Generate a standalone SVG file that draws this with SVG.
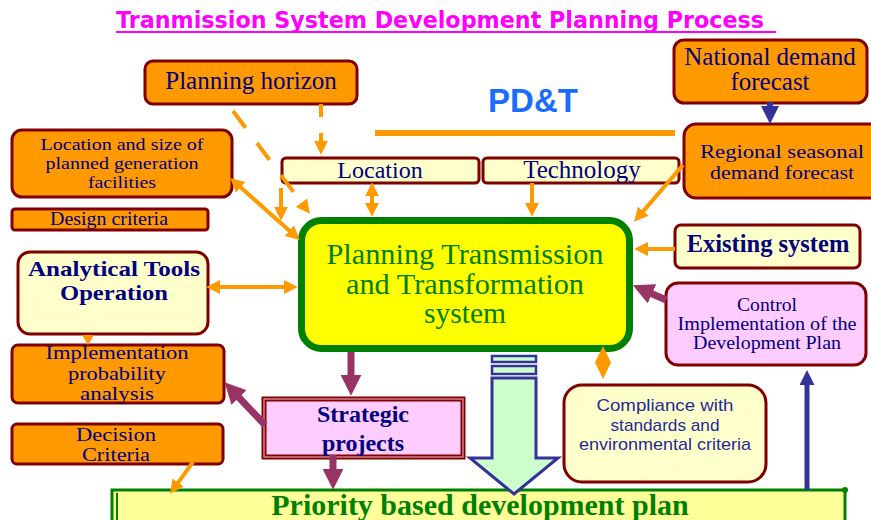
<svg xmlns="http://www.w3.org/2000/svg" width="871" height="520" viewBox="0 0 871 520">
  <style>
    .orange { fill: #FF9900; stroke: #800000; stroke-width: 3; }
    .cream { fill: #FFFFCC; stroke: #800000; stroke-width: 3; }
    .pink { fill: #FFCCFF; stroke: #800000; stroke-width: 3; }
    .serif { font-family: "Liberation Serif", "Times New Roman", serif; fill: #000080; text-anchor: middle; }
    .bold { font-weight: bold; }
    .sans { font-family: "Liberation Sans", Arial, sans-serif; text-anchor: middle; }
    .green { fill: #008000; }
    .oline { fill: none; stroke: #FF9900; stroke-width: 4; }
    .pline { fill: none; stroke: #993366; stroke-width: 7; }
    .nline { fill: none; stroke: #333399; }
  </style>
  <defs>
    <marker id="oa" viewBox="0 0 10 10" refX="3" refY="5" markerWidth="3.5" markerHeight="3.5" orient="auto-start-reverse" markerUnits="strokeWidth">
      <path d="M0,0 L10,5 L0,10 Z" fill="#FF9900"/>
    </marker>
    <marker id="pa" viewBox="0 0 10 10" refX="3" refY="5" markerWidth="3" markerHeight="3" orient="auto" markerUnits="strokeWidth">
      <path d="M0,0 L10,5 L0,10 Z" fill="#993366"/>
    </marker>
    <marker id="na" viewBox="0 0 10 10" refX="3" refY="5" markerWidth="3" markerHeight="3" orient="auto" markerUnits="strokeWidth">
      <path d="M0,0 L10,5 L0,10 Z" fill="#333399"/>
    </marker>
  </defs>

  <rect width="871" height="520" fill="#FFFFFF"/>

  <!-- title -->
  <g id="title">
    <text x="116" y="28" font-family="DejaVu Sans, Verdana, sans-serif" font-weight="bold" font-size="23" fill="#FF00FF" textLength="648" lengthAdjust="spacingAndGlyphs">Tranmission System Development Planning Process</text>
    <line x1="116" y1="32" x2="776" y2="32" stroke="#FF00FF" stroke-width="2"/>
  </g>

  <!-- PD&T label and rule -->
  <g id="pdt">
    <text x="533" y="112" class="sans" font-weight="bold" font-size="33" fill="#1A6CFF">PD&amp;T</text>
    <line x1="375" y1="133" x2="675" y2="133" stroke="#FF9900" stroke-width="6"/>
  </g>

  <!-- priority plan (bottom bar) -->
  <g id="priority">
    <rect x="112" y="490" width="733" height="45" fill="#FFFF99" stroke="#008000" stroke-width="3"/>
    <line x1="117" y1="493" x2="117" y2="520" stroke="#008000" stroke-width="2"/>
    <circle cx="845" cy="490" r="3" fill="#008000"/>
    <text x="480" y="515" class="serif bold green" font-size="30">Priority based development plan</text>
  </g>

  <g id="planning-horizon">
    <rect x="145" y="61" width="212" height="43" rx="8" class="orange"/>
    <text x="251" y="89" class="serif" font-size="25">Planning horizon</text>
  </g>

  <g id="generation">
    <rect x="12" y="130" width="220" height="67" rx="10" class="orange"/>
    <text x="122" y="150" class="serif" font-size="17.5" textLength="163" lengthAdjust="spacingAndGlyphs">Location and size of</text>
    <text x="122" y="169" class="serif" font-size="17.5" textLength="153" lengthAdjust="spacingAndGlyphs">planned generation</text>
    <text x="122" y="188" class="serif" font-size="17.5" textLength="68" lengthAdjust="spacingAndGlyphs">facilities</text>
  </g>

  <g id="design-criteria">
    <rect x="12" y="209" width="196" height="21" rx="3" class="orange"/>
    <text x="109" y="225" class="serif" font-size="18" textLength="118" lengthAdjust="spacingAndGlyphs">Design criteria</text>
  </g>

  <g id="analytical">
    <rect x="18" y="252" width="190" height="82" rx="12" class="cream"/>
    <text x="114" y="276" class="serif bold" font-size="22" textLength="172" lengthAdjust="spacingAndGlyphs">Analytical Tools</text>
    <text x="114" y="300" class="serif bold" font-size="22" textLength="108" lengthAdjust="spacingAndGlyphs">Operation</text>
  </g>

  <g id="implementation">
    <rect x="12" y="345" width="212" height="58" rx="6" class="orange"/>
    <text x="117" y="359" class="serif" font-size="19" textLength="143" lengthAdjust="spacingAndGlyphs">Implementation</text>
    <text x="117" y="380" class="serif" font-size="19" textLength="98" lengthAdjust="spacingAndGlyphs">probability</text>
    <text x="117" y="400" class="serif" font-size="19" textLength="74" lengthAdjust="spacingAndGlyphs">analysis</text>
  </g>

  <g id="decision">
    <rect x="12" y="424" width="211" height="40" rx="5" class="orange"/>
    <text x="116" y="441" class="serif" font-size="19" textLength="80" lengthAdjust="spacingAndGlyphs">Decision</text>
    <text x="116" y="461" class="serif" font-size="19" textLength="68" lengthAdjust="spacingAndGlyphs">Criteria</text>
  </g>

  <g id="location">
    <rect x="282" y="158" width="197" height="25" rx="4" class="cream"/>
    <text x="380" y="178" class="serif" font-size="24">Location</text>
  </g>

  <g id="technology">
    <rect x="483" y="158" width="196" height="25" rx="4" class="cream"/>
    <text x="582" y="178" class="serif" font-size="25">Technology</text>
  </g>

  <g id="national">
    <rect x="674" y="40" width="193" height="63" rx="10" class="orange"/>
    <text x="770" y="65" class="serif" font-size="25">National demand</text>
    <text x="770" y="90" class="serif" font-size="25">forecast</text>
  </g>

  <g id="regional">
    <rect x="684" y="124" width="200" height="74" rx="12" class="orange"/>
    <text x="782" y="158" class="serif" font-size="19.5" textLength="164" lengthAdjust="spacingAndGlyphs">Regional seasonal</text>
    <text x="782" y="179" class="serif" font-size="19.5" textLength="144" lengthAdjust="spacingAndGlyphs">demand forecast</text>
  </g>

  <g id="existing">
    <rect x="675" y="225" width="185" height="43" rx="6" class="cream"/>
    <text x="768" y="252" class="serif bold" font-size="24.5">Existing system</text>
  </g>

  <g id="control">
    <rect x="666" y="283" width="200" height="82" rx="12" class="pink"/>
    <text x="767" y="311" class="serif" font-size="18" textLength="60" lengthAdjust="spacingAndGlyphs">Control</text>
    <text x="767" y="330" class="serif" font-size="18" textLength="179" lengthAdjust="spacingAndGlyphs">Implementation of the</text>
    <text x="767" y="349" class="serif" font-size="18" textLength="148" lengthAdjust="spacingAndGlyphs">Development Plan</text>
  </g>

  <g id="central">
    <rect x="301.5" y="220.5" width="328" height="128" rx="20" fill="#FFFF00" stroke="#008000" stroke-width="7"/>
    <text x="465" y="264" class="serif green" font-size="29" textLength="277" lengthAdjust="spacingAndGlyphs">Planning Transmission</text>
    <text x="465" y="294" class="serif green" font-size="29" textLength="238" lengthAdjust="spacingAndGlyphs">and Transformation</text>
    <text x="465" y="323" class="serif green" font-size="29" textLength="82" lengthAdjust="spacingAndGlyphs">system</text>
  </g>

  <g id="strategic">
    <rect x="264" y="399" width="199" height="58" fill="#FFCCFF" stroke="#800000" stroke-width="5"/>
    <rect x="264" y="399" width="199" height="58" fill="none" stroke="#E8A0B0" stroke-width="1.2"/>
    <text x="363" y="422" class="serif bold" font-size="24">Strategic</text>
    <text x="363" y="451" class="serif bold" font-size="24">projects</text>
  </g>

  <g id="compliance">
    <rect x="564" y="385" width="202" height="97" rx="18" class="cream"/>
    <text x="665" y="411" class="sans" font-size="17" fill="#1F2A99" textLength="137" lengthAdjust="spacingAndGlyphs">Compliance with</text>
    <text x="665" y="431" class="sans" font-size="17" fill="#1F2A99" textLength="109" lengthAdjust="spacingAndGlyphs">standards and</text>
    <text x="665" y="450" class="sans" font-size="17" fill="#1F2A99" textLength="172" lengthAdjust="spacingAndGlyphs">environmental criteria</text>
  </g>

  <!-- connectors -->
  <g id="connectors">
    <!-- orange inputs -->
    <path class="oline" d="M321,104 L321,145" stroke-dasharray="13 16" marker-end="url(#oa)"/>
    <path class="oline" d="M233,111 L304,206" stroke-dasharray="21 19" marker-end="url(#oa)"/>
    <path class="oline" d="M237.5,184.6 L292.5,233.4" marker-start="url(#oa)" marker-end="url(#oa)"/>
    <path class="oline" d="M281,188 L281,211" marker-end="url(#oa)"/>
    <path class="oline" d="M372,192 L372,207" marker-start="url(#oa)" marker-end="url(#oa)"/>
    <path class="oline" d="M532,183 L532,207" marker-end="url(#oa)"/>
    <path class="oline" d="M683,165 L640.5,214.4" marker-end="url(#oa)"/>
    <path class="oline" d="M675,249 L644,249" marker-end="url(#oa)"/>
    <path class="oline" d="M216,287 L288,287" marker-start="url(#oa)" marker-end="url(#oa)"/>
    <path class="oline" d="M193,462 L175.8,485.9" marker-end="url(#oa)"/>
    <!-- two-way link to compliance box -->
    <polygon points="603,346 611,362.5 603,379 595,362.5" fill="#FF9900"/>
    <polygon points="82,335 94,335 88,345" fill="#FF9900"/>

    <!-- purple flows -->
    <path class="pline" d="M351,352 L351,381" marker-end="url(#pa)"/>
    <path class="pline" d="M333,455 L333,475" marker-end="url(#pa)"/>
    <path class="pline" d="M265,425 L234.7,393" marker-end="url(#pa)"/>
    <path class="pline" d="M666,300 L646.3,291.2" marker-end="url(#pa)"/>

    <!-- navy flows -->
    <path class="nline" stroke-width="6" d="M770,102 L770,111.4" marker-end="url(#na)"/>
    <path class="nline" stroke-width="5" d="M807,490 L807,380.5" marker-end="url(#na)"/>

    <!-- wide hollow arrow to the plan -->
    <rect x="492" y="356" width="44" height="6" fill="#CCFFCC" stroke="#333399" stroke-width="2.5"/>
    <rect x="492" y="366" width="44" height="8" fill="#CCFFCC" stroke="#333399" stroke-width="2.5"/>
    <path d="M492,378 L536,378 L536,458 L558,458 L514,494 L470,458 L492,458 Z" fill="#CCFFCC" stroke="#333399" stroke-width="3" stroke-linejoin="miter"/>
  </g>
</svg>
